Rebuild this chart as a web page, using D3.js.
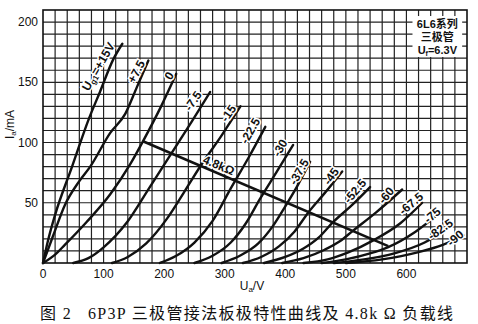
<!DOCTYPE html>
<html>
<head>
<meta charset="utf-8">
<script src="https://cdn.jsdelivr.net/npm/d3@7"></script>
<style>
  body { margin: 0; background: #fff; }
  svg { display: block; }
  .tick-label { font-family: "Liberation Sans", Arial, sans-serif; font-size: 12px; fill: #111; }
  .curve-label { font-family: "Liberation Sans", Arial, sans-serif; font-size: 12px; font-weight: bold; fill: #111;
                 stroke: #fff; stroke-width: 3px; paint-order: stroke; }
  .caption { font-family: "Liberation Serif", "Noto Sans CJK SC", serif; font-size: 16px; fill: #111; white-space: pre; }
  .box-text { font-family: "Liberation Sans", "Noto Sans CJK SC", sans-serif; font-size: 11px; font-weight: bold; fill: #111; }
</style>
</head>
<body>
<script>
// grid voltage of each curve and its label text
var gridVolts = ["+15", "+7.5", "0", "-7.5", "-15", "-22.5", "-30", "-37.5", "-45", "-52.5", "-60", "-67.5", "-75", "-82.5", "-90"];

// plate curves, [Ua (V), Ia (mA)]
var curve_p15  = [[0,0],[8,18],[20,40],[48,80],[76,120],[94,142],[116,169],[131,182]];
var curve_p7_5 = [[0,0],[17,23],[36,48],[60,68],[78,80],[111,108],[136,124],[155,146],[174,168]];
var curve_0    = [[0,0],[20,7],[36,15],[72,34],[111,57],[144,82],[165,101],[195,130],[220,157]];
var curve_m7_5 = [[50,0],[75,4],[100,13],[139,34],[175,62],[212,91],[245,117],[276,142]];
var curve_m15  = [[114,0],[140,5],[170,16],[205,37],[232,58],[260,80.5],[295,106],[326,130]];
var curve_m22_5 = [[193,0],[220,6],[250,17],[280,35],[310,62],[340,88],[367,113]];
var curve_m30  = [[250,0],[280,6],[310,17],[335,33],[358,53],[385,75],[413,98]];
var curve_m37_5 = [[295,0],[325,6],[355,16],[380,31],[400,47],[420,64],[441,84]];
var curve_m45  = [[330,0],[360,5],[390,14],[415,26],[438,42],[465,58],[494,76]];
var curve_m52_5 = [[365,0],[400,5],[430,12],[455,21],[478,33.5],[510,48],[540,63]];
var curve_m60  = [[395,0],[430,4],[465,11],[490,18],[511,26.5],[550,42],[593,61]];
var curve_m67_5 = [[430,0],[470,3],[505,9],[546,19],[590,33],[626,50]];
var curve_m75  = [[460,0],[500,3],[540,8],[569,13],[615,26],[656,42]];
var curve_m82_5 = [[480,0],[530,3],[580,8],[630,17],[676,32]];
var curve_m90  = [[500,0],[560,3],[620,9],[660,15],[694,23]];

var curves = [curve_p15, curve_p7_5, curve_0, curve_m7_5, curve_m15, curve_m22_5, curve_m30,
              curve_m37_5, curve_m45, curve_m52_5, curve_m60, curve_m67_5, curve_m75, curve_m82_5, curve_m90];

// 4.8k load line end points
var loadLine = [[165,101],[570,14]];

var xTicks = [0,100,200,300,400,500,600];
var yTicks = [50,100,150,200];

var svg_width = 478, svg_height = 324;

var svg = d3.select("body").append("svg")
  .attr("width", svg_width)
  .attr("height", svg_height);

var xScale = d3.scaleLinear().domain([0,700]).range([43,467]);
var yScale = d3.scaleLinear().domain([0,210]).range([263,10]);

// grid: every 20 V and every 10 mA
var plot = svg.append("g");
plot.selectAll(".vgrid")
  .data(d3.range(20, 700, 20))
  .enter().append("line")
  .attr("x1", d => xScale(d)).attr("x2", d => xScale(d))
  .attr("y1", yScale(0)).attr("y2", yScale(210))
  .attr("stroke", "#222").attr("stroke-width", 1.2);
plot.selectAll(".hgrid")
  .data(d3.range(10, 210, 10))
  .enter().append("line")
  .attr("y1", d => yScale(d)).attr("y2", d => yScale(d))
  .attr("x1", xScale(0)).attr("x2", xScale(700))
  .attr("stroke", "#222").attr("stroke-width", 1.2);

// frame
plot.append("rect")
  .attr("x", xScale(0)).attr("y", yScale(210))
  .attr("width", xScale(700) - xScale(0))
  .attr("height", yScale(0) - yScale(210))
  .attr("fill", "none").attr("stroke", "#111").attr("stroke-width", 1.6);

// white box for the tube note in the top right
var boxX = xScale(610), boxY = yScale(205);
plot.append("rect")
  .attr("x", boxX).attr("y", boxY)
  .attr("width", xScale(692) - boxX).attr("height", yScale(171) - boxY)
  .attr("fill", "#fff");

var line = d3.line()
  .x(d => xScale(d[0]))
  .y(d => yScale(d[1]))
  .curve(d3.curveMonotoneX);

plot.selectAll(".curve")
  .data(curves)
  .enter().append("path")
  .attr("d", line)
  .attr("fill", "none")
  .attr("stroke", "#111")
  .attr("stroke-width", 2.4)
  .attr("stroke-linecap", "round");

plot.append("path")
  .attr("d", d3.line().x(d => xScale(d[0])).y(d => yScale(d[1]))(loadLine))
  .attr("stroke", "#111")
  .attr("stroke-width", 2.6);

// curve labels: pixel offset from the curve top end and rotation
var labelOffsets = [[-24,23,-60],[-12,11,-62],[-7,2,-60],[-17,9,-55],[-12,7,-55],[-15,4,-60],[-13,3,-60],
                    [-11,10,-60],[-11,5,-55],[-15,4,-50],[-16,6,-50],[-11,1,-40],[-8,3,-40],[-12,5,-35],[-8,3,-40]];

curves.forEach(function(c, i) {
  var end = c[c.length - 1];
  var o = labelOffsets[i];
  var t = plot.append("text")
    .attr("class", "curve-label")
    .attr("text-anchor", "middle")
    .attr("dominant-baseline", "central")
    .attr("transform", "translate(" + (xScale(end[0]) + o[0]) + "," + (yScale(end[1]) + o[1]) + ") rotate(" + o[2] + ")");
  if (i == 0) {
    t.append("tspan").text("U");
    t.append("tspan").attr("font-size", "8px").attr("dy", 3).text("g1");
    t.append("tspan").attr("dy", -3).text("=" + gridVolts[i] + "V");
  } else {
    t.text(gridVolts[i]);
  }
});

// load line label
var llMid = [290, 81];
plot.append("text")
  .attr("class", "curve-label")
  .attr("text-anchor", "middle")
  .attr("dominant-baseline", "central")
  .attr("font-weight", "normal")
  .attr("transform", "translate(" + xScale(llMid[0]) + "," + yScale(llMid[1]) + ") rotate(23)")
  .text("4.8kΩ");

// tube note
var noteLines = ["6L6系列", "三极管"];
noteLines.forEach(function(s, i) {
  plot.append("text").attr("class", "box-text")
    .attr("x", xScale(651)).attr("y", yScale(195) + i * 13)
    .attr("text-anchor", "middle").text(s);
});
var uf = plot.append("text").attr("class", "box-text")
  .attr("x", xScale(651)).attr("y", yScale(195) + 26).attr("text-anchor", "middle");
uf.append("tspan").text("U");
uf.append("tspan").attr("font-size", "7px").attr("dy", 2).text("f");
uf.append("tspan").attr("dy", -2).text("=6.3V");

// axes tick labels
svg.selectAll(".xlab")
  .data(xTicks)
  .enter().append("text")
  .attr("class", "tick-label")
  .attr("x", d => xScale(d))
  .attr("y", yScale(0) + 15)
  .attr("text-anchor", "middle")
  .text(d => d);

svg.selectAll(".ylab")
  .data(yTicks)
  .enter().append("text")
  .attr("class", "tick-label")
  .attr("x", xScale(0) - 5)
  .attr("y", d => yScale(d) + 4)
  .attr("text-anchor", "end")
  .text(d => d);

// axis titles
var xt = svg.append("text").attr("class", "tick-label")
  .attr("x", xScale(345)).attr("y", 290).attr("text-anchor", "middle");
xt.append("tspan").text("U");
xt.append("tspan").attr("font-size", "8px").attr("dy", 2).text("a");
xt.append("tspan").attr("dy", -2).text("/V");

var yt = svg.append("text").attr("class", "tick-label")
  .attr("text-anchor", "middle")
  .attr("transform", "translate(14," + yScale(115) + ") rotate(-90)");
yt.append("tspan").text("I");
yt.append("tspan").attr("font-size", "8px").attr("dy", 2).text("a");
yt.append("tspan").attr("dy", -2).text("/mA");

// caption
svg.append("text")
  .attr("class", "caption")
  .attr("x", 40).attr("y", 319)
  .attr("textLength", 413)
  .attr("lengthAdjust", "spacing")
  .text("图 2   6P3P 三极管接法板极特性曲线及 4.8k Ω 负载线");
</script>
</body>
</html>
